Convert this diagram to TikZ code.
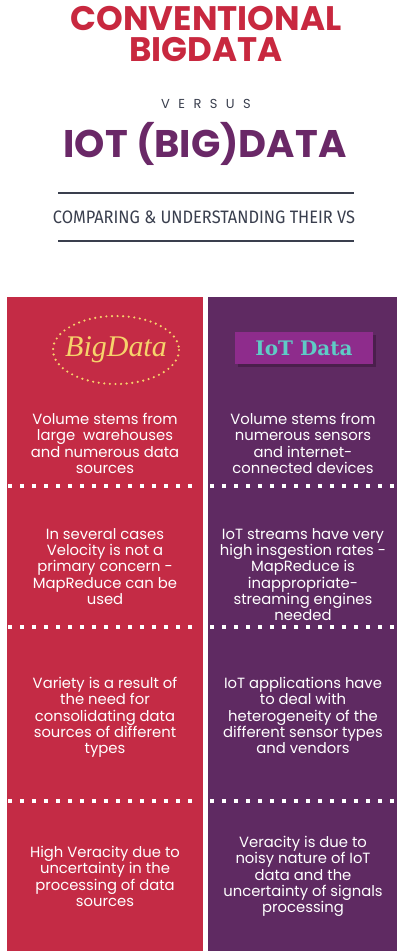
\documentclass[tikz,border=0pt]{standalone}
\usepackage{fontspec}
\setmainfont{Poppins}
\newfontfamily\slab{DejaVu Serif}
\newfontfamily\cond{Fira Sans}
\newfontfamily\scriptf{Liberation Serif}
\definecolor{redc}{HTML}{C42B45}
\definecolor{purc}{HTML}{5F2A62}
\definecolor{titlered}{HTML}{C8283F}
\definecolor{titlepur}{HTML}{6A2867}
\definecolor{grayc}{HTML}{3A3F4E}
\definecolor{yel}{HTML}{F6D36B}
\definecolor{mag}{HTML}{8E2C8C}
\definecolor{magdark}{HTML}{4A1F4C}
\definecolor{teal}{HTML}{5FCBC6}
\tikzset{
  body/.style={text=white, align=center, font=\fontsize{14.8}{16.3}\selectfont, inner sep=0pt},
  ttl/.style={inner sep=0pt, anchor=base, text height=24pt, text depth=0pt, font=\bfseries\fontsize{34}{34}\selectfont},
}
\begin{document}
\begin{tikzpicture}[x=1pt,y=-1pt]
\useasboundingbox (0,0) rectangle (397,951);
\fill[white] (0,0) rectangle (397,951);
% titles
\node[ttl, text=titlered] (t1) at (206,30) {CONVENTIONAL};
\node[ttl, text=titlered] (t2) at (206,61) {BIGDATA};
\node[inner sep=0pt, text=grayc, font=\fontsize{13}{13}\selectfont\addfontfeature{LetterSpace=65}] (vs) at (206,104) {VERSUS};
\node[inner sep=0pt, text=titlepur, font=\bfseries\fontsize{38.5}{38.5}\selectfont] (t3) at (205,144) {IOT (BIG)DATA};
\draw[grayc, line width=1.2pt] (58,193) coordinate (l1a) -- (354,193) coordinate (l1b);
\draw[grayc, line width=1.2pt] (58,241) coordinate (l2a) -- (354,241) coordinate (l2b);
\node[inner sep=0pt, text=grayc] (sub) at (204,217) {\scalebox{0.91}[1]{\cond\fontsize{18}{18}\selectfont COMPARING \& UNDERSTANDING THEIR VS}};
% columns
\fill[redc] (7,297) rectangle (203,951);
\fill[purc] (208,297) rectangle (397,951);
% dotted separators
\foreach \y in {486,627,801}{
  \foreach \x in {10,22,...,200}{\fill[white] (\x-2,\y-2) rectangle +(4,4);}
  \foreach \x in {212,224,...,396}{\fill[white] (\x-2,\y-2) rectangle +(4,4);}
}
% BigData logo
\draw[yel, line width=2.4pt, dash pattern=on 0pt off 5.6pt, line cap=round] (116,350) ellipse (63 and 34);
\node[inner sep=0pt, text=yel, font=\scriptf\itshape\fontsize{30}{30}\selectfont] (bd) at (116,350) {BigData};
% IoT Data label
\fill[magdark] (238,335) rectangle (376,367);
\node[fill=mag, minimum width=138pt, minimum height=32pt, inner sep=0pt, text=teal, font=\slab\bfseries\fontsize{20}{20}\selectfont] (iot) at (304,348) {IoT Data};
% body texts
\node[body, anchor=north] (a1) at (105,413) {Volume stems from\\large\ \ warehouses\\and numerous data\\sources};
\node[body, anchor=north] (b1) at (303,413) {Volume stems from\\numerous sensors\\and internet-\\connected devices};
\node[body, anchor=north] (a2) at (105,528) {In several cases\\Velocity is not a\\primary concern -\\MapReduce can be\\used};
\node[body, anchor=north] (b2) at (303,528) {IoT streams have very\\high insgestion rates -\\MapReduce is\\inappropriate-\\streaming engines\\needed};
\node[body, anchor=north] (a3) at (105,677) {Variety is a result of\\the need for\\consolidating data\\sources of different\\types};
\node[body, anchor=north] (b3) at (303,677) {IoT applications have\\to deal with\\heterogeneity of the\\different sensor types\\and vendors};
\node[body, anchor=north] (a4) at (105,846) {High Veracity due to\\uncertainty in the\\processing of data\\sources};
\node[body, anchor=north] (b4) at (303,836) {Veracity is due to\\noisy nature of IoT\\data and the\\uncertainty of signals\\processing};
\end{tikzpicture}
\end{document}
